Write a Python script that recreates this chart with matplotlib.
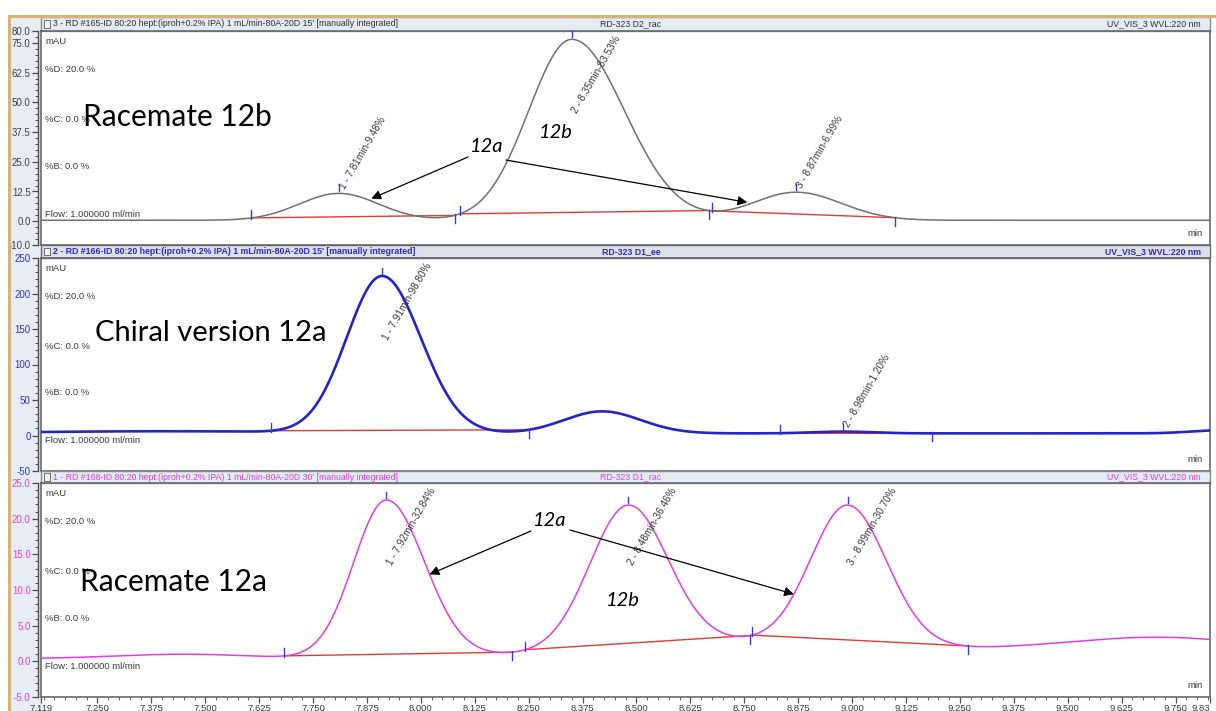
import numpy as np
import matplotlib
matplotlib.use("Agg")
import matplotlib.pyplot as plt
from matplotlib.patches import Rectangle
from matplotlib.lines import Line2D
from matplotlib.ticker import MultipleLocator, FixedLocator

W, H, DPI = 1216, 711, 100

# ---------------- time axis ----------------
t_start, t_end = 7.119, 9.83
x_major = [7.119, 7.250, 7.375, 7.500, 7.625, 7.750, 7.875, 8.000, 8.125, 8.250,
           8.375, 8.500, 8.625, 8.750, 8.875, 9.000, 9.125, 9.250, 9.375, 9.500,
           9.625, 9.750, 9.83]
x_labels = ["7.119", "7.250", "7.375", "7.500", "7.625", "7.750", "7.875", "8.000",
            "8.125", "8.250", "8.375", "8.500", "8.625", "8.750", "8.875", "9.000",
            "9.125", "9.250", "9.375", "9.500", "9.625", "9.750", "9.83"]

# ---------------- run 3 : racemate 12b ----------------
rac12b_rt = [7.81, 8.35, 8.87]
rac12b_height = [11.3, 76.1, 11.8]
rac12b_sig_l = [0.092, 0.100, 0.100]
rac12b_sig_r = [0.092, 0.122, 0.105]
rac12b_offset = 0.4
rac12b_drift_rt = []
rac12b_drift_height = []
rac12b_drift_width = []
rac12b_pct = [9.48, 83.53, 6.99]
rac12b_labelled = [0, 1, 2]
rac12b_windows = [(7.607, 8.078), (8.090, 8.668), (8.675, 9.100)]

# ---------------- run 2 : chiral 12a ----------------
chiral_rt = [7.91, 8.42, 8.98]
chiral_height = [221.0, 31.0, 2.5]
chiral_sig_l = [0.082, 0.088, 0.07]
chiral_sig_r = [0.090, 0.090, 0.07]
chiral_offset = 3.0
chiral_drift_rt = [7.40, 9.86]
chiral_drift_height = [3.0, 4.5]
chiral_drift_width = [0.30, 0.07]
chiral_pct = [98.80, 1.20]
chiral_labelled = [0, 2]
chiral_windows = [(7.653, 8.250), (8.833, 9.186)]

# ---------------- run 1 : racemate 12a ----------------
rac12a_rt = [7.92, 8.48, 8.99]
rac12a_height = [22.1, 19.85, 19.3]
rac12a_sig_l = [0.076, 0.088, 0.085]
rac12a_sig_r = [0.088, 0.092, 0.090]
rac12a_offset = 0.4
rac12a_drift_rt = [7.45, 8.80, 9.72]
rac12a_drift_height = [0.6, 2.5, 2.9]
rac12a_drift_width = [0.15, 0.35, 0.25]
rac12a_pct = [32.84, 36.46, 30.70]
rac12a_labelled = [0, 1, 2]
rac12a_windows = [(7.683, 8.211), (8.241, 8.764), (8.768, 9.268)]


def peaks(t, rts, heights, sl, sr):
    t = np.asarray(t, dtype=float)
    y = np.zeros_like(t)
    for rt, h, a, b in zip(rts, heights, sl, sr):
        s = np.where(t < rt, a, b)
        y = y + h * np.exp(-0.5 * ((t - rt) / s) ** 2)
    return y


def make_signal(p):
    def f(t):
        return (p["offset"]
                + peaks(t, p["rt"], p["height"], p["sig_l"], p["sig_r"])
                + peaks(t, p["drift_rt"], p["drift_h"], p["drift_w"], p["drift_w"]))
    return f


panels = [
    dict(rt=rac12b_rt, height=rac12b_height, sig_l=rac12b_sig_l, sig_r=rac12b_sig_r,
         offset=rac12b_offset, drift_rt=rac12b_drift_rt, drift_h=rac12b_drift_height,
         drift_w=rac12b_drift_width, pct=rac12b_pct, labelled=rac12b_labelled,
         windows=rac12b_windows,
         color="#707070", lw=1.1, tick_color="#404040", ylim=(-10, 80),
         yticks=[-10, 0, 12.5, 25, 37.5, 50, 62.5, 75, 80], yminor=2.5, yfmt="{:.1f}",
         box=(41, 31, 1210, 245), head=(41, 17, 1210, 31),
         head_left="3 - RD #165-ID 80:20 hept:(iproh+0.2% IPA) 1 mL/min-80A-20D 15' [manually integrated]",
         head_mid="RD-323 D2_rac", head_color="#303030", head_weight="normal",
         head_bg="#e3ebf6", head_edge="#8a8a8a"),
    dict(rt=chiral_rt, height=chiral_height, sig_l=chiral_sig_l, sig_r=chiral_sig_r,
         offset=chiral_offset, drift_rt=chiral_drift_rt, drift_h=chiral_drift_height,
         drift_w=chiral_drift_width, pct=chiral_pct, labelled=chiral_labelled,
         windows=chiral_windows,
         color="#2424c8", lw=1.9, tick_color="#3434d0", ylim=(-50, 250),
         yticks=[-50, 0, 50, 100, 150, 200, 250], yminor=10, yfmt="{:.0f}",
         box=(41, 258, 1210, 471), head=(41, 245, 1210, 258),
         head_left="2 - RD #166-ID 80:20 hept:(iproh+0.2% IPA) 1 mL/min-80A-20D 15' [manually integrated]",
         head_mid="RD-323 D1_ee", head_color="#2b2bc8", head_weight="bold",
         head_bg="#dde1ec", head_edge="#6a6a6a"),
    dict(rt=rac12a_rt, height=rac12a_height, sig_l=rac12a_sig_l, sig_r=rac12a_sig_r,
         offset=rac12a_offset, drift_rt=rac12a_drift_rt, drift_h=rac12a_drift_height,
         drift_w=rac12a_drift_width, pct=rac12a_pct, labelled=rac12a_labelled,
         windows=rac12a_windows,
         color="#e23fe2", lw=1.1, tick_color="#e040e0", ylim=(-5, 25),
         yticks=[-5, 0, 5, 10, 15, 20, 25], yminor=1, yfmt="{:.1f}",
         box=(41, 483, 1210, 697), head=(41, 471, 1210, 483),
         head_left="1 - RD #168-ID 80:20 hept:(iproh+0.2% IPA) 1 mL/min-80A-20D 30' [manually integrated]",
         head_mid="RD-323 D1_rac", head_color="#e040e0", head_weight="normal",
         head_bg="#e3ebf6", head_edge="#8a8a8a"),
]

SMALL = ["Liberation Sans", "DejaVu Sans"]
BIG = ["Lato", "DejaVu Sans"]
TEXT_GREY = "#3a3a3a"
MARK_BLUE = "#3a3ad8"
RED = "#e03a3a"


def rect(x0, y0, x1, y1):
    return [x0 / W, 1 - y1 / H, (x1 - x0) / W, (y1 - y0) / H]


fig = plt.figure(figsize=(W / DPI, H / DPI), dpi=DPI)
fig.patch.set_facecolor("white")

# window chrome: side strip and border
fig.add_artist(Rectangle((9 / W, 0), (41 - 9) / W, 1 - 16 / H, transform=fig.transFigure,
                         facecolor="#e6edf7", edgecolor="none", zorder=0))
fig.add_artist(Line2D([9 / W, 9 / W], [0, 1 - 16 / H], color="#d8b27a", lw=2.2, zorder=1))
fig.add_artist(Line2D([9 / W, 1], [1 - 16 / H, 1 - 16 / H], color="#d8b27a", lw=2.2, zorder=1))

t = np.linspace(t_start, t_end, 3000)
renderer = fig.canvas.get_renderer()
axes = []

for i, p in enumerate(panels):
    sig = make_signal(p)

    # header bar
    hx = fig.add_axes(rect(*p["head"]))
    hx.set_xlim(0, 1)
    hx.set_ylim(0, 1)
    hx.set_facecolor(p["head_bg"])
    hx.set_xticks([])
    hx.set_yticks([])
    for s in hx.spines.values():
        s.set_color(p["head_edge"])
        s.set_linewidth(1.0)
    hw = p["head"][2] - p["head"][0]
    hx.add_patch(Rectangle((3 / hw, 0.2), 6 / hw, 0.6, facecolor="#f4f4f4",
                           edgecolor="#707070", lw=0.7))
    hx.text(12 / hw, 0.5, p["head_left"], fontsize=6.3, family=SMALL, color=p["head_color"],
            fontweight=p["head_weight"], ha="left", va="center")
    hx.text((631 - p["head"][0]) / hw, 0.5, p["head_mid"], fontsize=6.3, family=SMALL,
            color=p["head_color"], fontweight=p["head_weight"], ha="center", va="center")
    hx.text((1201 - p["head"][0]) / hw, 0.5, "UV_VIS_3 WVL:220 nm", fontsize=6.3, family=SMALL,
            color=p["head_color"], fontweight=p["head_weight"], ha="right", va="center")

    # plot area
    ax = fig.add_axes(rect(*p["box"]))
    axes.append(ax)
    ax.set_xlim(t_start, t_end)
    ax.set_ylim(*p["ylim"])
    ax.set_facecolor("white")
    ax.patch.set_alpha(0)
    for name in ["top", "right", "bottom"]:
        ax.spines[name].set_color("#6a6a6a")
        ax.spines[name].set_linewidth(1.2)
    ax.spines["left"].set_position(("outward", 2.5))
    ax.spines["left"].set_color("#4a4a4a")
    ax.spines["left"].set_linewidth(1.0)
    ax.plot([0, 0], [0, 1], transform=ax.transAxes, color="#6a6a6a", lw=1.2, clip_on=False)

    ax.yaxis.set_major_locator(FixedLocator(p["yticks"]))
    ax.yaxis.set_minor_locator(MultipleLocator(p["yminor"]))
    ax.set_yticklabels([p["yfmt"].format(v) for v in p["yticks"]])
    ax.tick_params(axis="y", which="major", direction="out", length=4, width=0.9,
                   color="#4a4a4a", labelsize=7, labelcolor=p["tick_color"], pad=1)
    ax.tick_params(axis="y", which="minor", direction="out", length=2.2, width=0.7,
                   color="#4a4a4a")
    for lab in ax.get_yticklabels():
        lab.set_family(SMALL)

    if i < 2:
        ax.set_xticks([])
    else:
        ax.set_xticks(x_major)
        ax.set_xticklabels(x_labels)
        ax.xaxis.set_minor_locator(FixedLocator(np.arange(7.125, 9.83, 0.025)))
        ax.tick_params(axis="x", which="major", direction="out", length=4, width=0.9,
                       color="#4a4a4a", labelsize=6.8, labelcolor=TEXT_GREY, pad=1)
        ax.tick_params(axis="x", which="minor", direction="out", length=2, width=0.6,
                       color="#4a4a4a")
        for lab in ax.get_xticklabels():
            lab.set_family(SMALL)
        # last label sits at the window edge
        ax.get_xticklabels()[-1].set_horizontalalignment("right")

    # method notes inside the plot
    for yf, txt in [(0.953, "mAU"), (0.82, "%D: 20.0 %"), (0.586, "%C: 0.0 %"),
                    (0.368, "%B: 0.0 %"), (0.143, "Flow: 1.000000 ml/min")]:
        ax.text(4 / 1169, yf, txt, transform=ax.transAxes, fontsize=6.8, family=SMALL,
                color=TEXT_GREY, ha="left", va="center")
    ax.text(0.994, 0.035, "min", transform=ax.transAxes, fontsize=6.8, family=SMALL,
            color=TEXT_GREY, ha="right", va="bottom")

    # integration baselines
    for (a, b) in p["windows"]:
        ya, yb = float(sig(a)), float(sig(b))
        ax.plot([a, b], [ya, yb], color=RED, lw=1.0, zorder=3)

    # chromatogram trace
    ax.plot(t, sig(t), color=p["color"], lw=p["lw"], zorder=4, solid_capstyle="round")

    # conversion helpers (pixel <-> data)
    inv = ax.transData.inverted()
    ppy = (p["ylim"][1] - p["ylim"][0]) / (p["box"][3] - p["box"][1])

    # window delimiter marks
    for (a, b) in p["windows"]:
        ya, yb = float(sig(a)), float(sig(b))
        ax.plot([a, a], [ya - 1 * ppy, ya + 8 * ppy], color=MARK_BLUE, lw=1.0, zorder=5)
        ax.plot([b, b], [yb + 1 * ppy, yb - 8 * ppy], color=MARK_BLUE, lw=1.0, zorder=5)

    # peak apex marks and rotated peak labels
    top_disp = ax.transAxes.transform((0, 1))[1]
    for n, (k, pct) in enumerate(zip(p["labelled"], p["pct"]), start=1):
        rt = p["rt"][k]
        apex = float(sig(rt))
        ax.plot([rt, rt], [apex + 2 * ppy, apex + 8 * ppy], color=MARK_BLUE, lw=1.0, zorder=5)
        dx, dy = ax.transData.transform((rt, apex))
        label = f"{n} - {rt:.2f}min-{pct:.2f}%"
        ax_x, ax_y = inv.transform((dx + 3, dy + 5))
        txt = ax.text(ax_x, ax_y, label, rotation=60, rotation_mode="anchor",
                      ha="left", va="center", fontsize=7.2, family=SMALL,
                      color="#383838", zorder=6)
        bb = txt.get_window_extent(renderer)
        if bb.y1 > top_disp - 3:
            shift = bb.y1 - (top_disp - 3)
            ax_x, ax_y = inv.transform((dx + 3, dy + 5 - shift))
            txt.set_position((ax_x, ax_y))


def data_at(ax, px, py):
    return ax.transData.inverted().transform((px, H - py))


ax1, ax2, ax3 = axes
sig1 = make_signal(panels[0])
sig3 = make_signal(panels[2])

# sample descriptions
fig.text(83 / W, 1 - 117 / H, "Racemate 12b", fontsize=21.5, family=BIG, color="black",
         ha="left", va="center")
fig.text(95 / W, 1 - 333 / H, "Chiral version 12a", fontsize=21, family=BIG, color="black",
         ha="left", va="center")
fig.text(80 / W, 1 - 582 / H, "Racemate 12a", fontsize=21.5, family=BIG, color="black",
         ha="left", va="center")

arrow = dict(arrowstyle="-|>", lw=0.9, color="black", mutation_scale=14,
             shrinkA=0, shrinkB=0)

# compound assignments, racemate 12b
ax1.text(*data_at(ax1, 487, 147), "12a", fontsize=14.5, family=BIG, style="italic",
         ha="center", va="center", zorder=7)
ax1.text(*data_at(ax1, 556, 132), "12b", fontsize=14.5, family=BIG, style="italic",
         ha="center", va="center", zorder=7)
for tip_t, start in [(7.885, (468, 157)), (8.757, (506, 160))]:
    ax1.annotate("", xy=(tip_t, float(sig1(tip_t)) + 1.0), xytext=data_at(ax1, *start),
                 arrowprops=arrow, zorder=7)

# compound assignments, racemate 12a
ax3.text(*data_at(ax3, 550, 521), "12a", fontsize=14.5, family=BIG, style="italic",
         ha="center", va="center", zorder=7)
ax3.text(*data_at(ax3, 623, 601), "12b", fontsize=14.5, family=BIG, style="italic",
         ha="center", va="center", zorder=7)
for tip_t, start in [(8.02, (531, 531)), (8.865, (570, 530))]:
    ax3.annotate("", xy=(tip_t, float(sig3(tip_t))), xytext=data_at(ax3, *start),
                 arrowprops=arrow, zorder=7)

fig.savefig("out.png", dpi=DPI, facecolor=fig.get_facecolor())
